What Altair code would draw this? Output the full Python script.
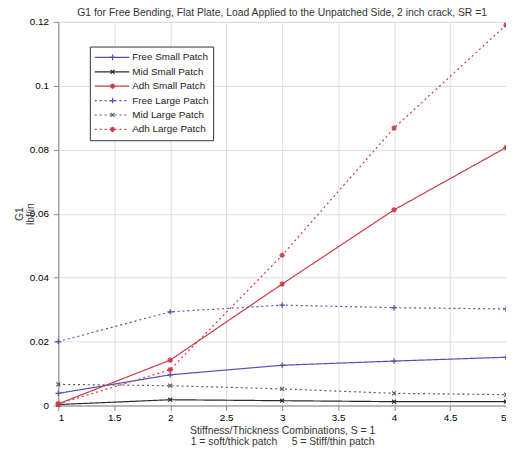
import altair as alt
import pandas as pd

# ---- data ----
x_vals = [1, 2, 3, 4, 5]
series_names = ["Free Small Patch", "Mid Small Patch", "Adh Small Patch",
                "Free Large Patch", "Mid Large Patch", "Adh Large Patch"]
free_small = [0.0038, 0.0096, 0.0126, 0.0139, 0.0151]
mid_small = [0.0003, 0.0018, 0.0015, 0.0012, 0.0012]
adh_small = [0.0005, 0.0142, 0.0380, 0.0612, 0.0807]
free_large = [0.0200, 0.0293, 0.0314, 0.0306, 0.0302]
mid_large = [0.0066, 0.0062, 0.0052, 0.0038, 0.0034]
adh_large = [0.0005, 0.0112, 0.0470, 0.0868, 0.1190]

x_ticks = [1, 1.5, 2, 2.5, 3, 3.5, 4, 4.5, 5]
y_ticks = [0, 0.02, 0.04, 0.06, 0.08, 0.1, 0.12]

title_text = "G1 for Free Bending, Flat Plate, Load Applied to the Unpatched Side, 2 inch crack, SR =1"
x_title = ["Stiffness/Thickness Combinations, S = 1",
           "1 = soft/thick patch\u00a0\u00a0\u00a0\u00a0\u00a05 = Stiff/thin patch"]
y_title = ["G1", "lbf/in"]

# ---- styles ----
colors = ["#5050b4", "#2a2a2a", "#c83c44", "#5050b4", "#5a5a5a", "#d03a40"]
dashes = [[1, 0], [1, 0], [1, 0], [2, 3], [2, 3], [2, 3]]
plus = "M-1,0L1,0M0,-1L0,1"
xmark = "M-0.7,-0.7L0.7,0.7M0.7,-0.7L-0.7,0.7"
star = "M-1,0L1,0M0,-1L0,1M-0.7,-0.7L0.7,0.7M0.7,-0.7L-0.7,0.7"
shapes = [plus, xmark, star, plus, xmark, star]

# marker legend uses a separate domain so it is not merged with the line legend
marker_names = [n + " " for n in series_names]

all_vals = [free_small, mid_small, adh_small, free_large, mid_large, adh_large]
rows = []
for name, mname, vals in zip(series_names, marker_names, all_vals):
    for xv, yv in zip(x_vals, vals):
        rows.append({"S": xv, "G1": yv, "series": name, "series2": mname})
df = pd.DataFrame(rows)

FONT = "Liberation Sans"

xenc = alt.X("S:Q",
             scale=alt.Scale(domain=[1, 5], nice=False, zero=False),
             axis=alt.Axis(values=x_ticks, format="~g", title=x_title,
                           titleFontSize=10.5, titleFontWeight="normal",
                           titleColor="#333", titlePadding=3, titleLineHeight=11.5,
                           labelPadding=2))
yenc = alt.Y("G1:Q",
             scale=alt.Scale(domain=[0, 0.12], nice=False),
             axis=alt.Axis(values=y_ticks, format="~g", title=y_title,
                           titleFontSize=10.5, titleFontWeight="normal",
                           titleColor="#333", titlePadding=-6, titleLineHeight=11,
                           labelPadding=5))

base = alt.Chart(df)

lines = base.mark_line(strokeWidth=1.2).encode(
    x=xenc,
    y=yenc,
    color=alt.Color("series:N", sort=series_names,
                    scale=alt.Scale(domain=series_names, range=colors),
                    legend=alt.Legend(title=None, orient="none", legendX=32, legendY=25,
                                      symbolType="stroke", symbolSize=1225,
                                      symbolStrokeWidth=1.2, clipHeight=14,
                                      labelFontSize=10, labelColor="#222", labelFont=FONT,
                                      labelOffset=2, fillColor="white", strokeColor="#333",
                                      padding=4, rowPadding=0.6)),
    strokeDash=alt.StrokeDash("series:N", sort=series_names,
                              scale=alt.Scale(domain=series_names, range=dashes)),
)

points = base.mark_point(filled=False, size=32, strokeWidth=1.2, opacity=1).encode(
    x="S:Q",
    y="G1:Q",
    stroke=alt.Stroke("series2:N", sort=marker_names,
                      scale=alt.Scale(domain=marker_names, range=colors),
                      legend=alt.Legend(title=None, orient="none", legendX=32, legendY=25,
                                        symbolSize=32, symbolStrokeWidth=1.2,
                                        clipHeight=14, symbolOffset=14,
                                        labelFontSize=10, labelExpr="''", labelFont=FONT,
                                        padding=4, rowPadding=0.6)),
    shape=alt.Shape("series2:N", sort=marker_names,
                    scale=alt.Scale(domain=marker_names, range=shapes)),
)

chart = alt.layer(lines, points).properties(
    width=454, height=389,
    title=alt.TitleParams(title_text, fontSize=10.5, fontWeight="normal", color="#333",
                          font=FONT, anchor="middle", offset=3, baseline="alphabetic",
                          frame="group", dy=13),
    autosize=alt.AutoSizeParams(type="none"),
    padding={"left": 51, "top": 11, "right": 0, "bottom": 39},
).configure_axis(
    labelFont=FONT, titleFont=FONT, labelFontSize=10.5, labelColor="#333",
    grid=True, gridColor="#888", gridDash=[1, 2], gridWidth=0.8, gridOpacity=0.9,
    domain=False, ticks=False,
).configure_view(
    stroke="#333", strokeWidth=1,
).configure(background="white")

chart.save("out.html", embed_options={"renderer": "svg", "actions": False})
